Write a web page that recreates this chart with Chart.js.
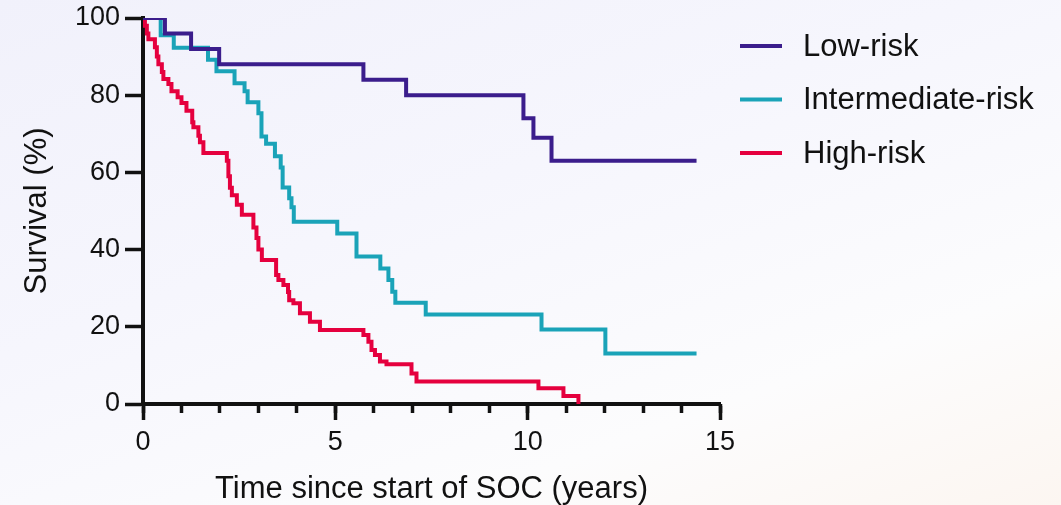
<!DOCTYPE html>
<html>
<head>
<meta charset="utf-8">
<script src="https://cdn.jsdelivr.net/npm/chart.js@4.4.1/dist/chart.umd.min.js"></script>
<style>
    html, body { margin: 0; padding: 0; }
    body {
        width: 1061px; height: 505px; overflow: hidden;
        background: linear-gradient(160deg, #f1f1fb 0%, #f6f6fd 40%, #fcfcfd 75%, #fcf6f1 100%);
    }
    #wrap { position: relative; width: 1061px; height: 505px; }
</style>
</head>
<body>
<div id="wrap"><canvas id="kmChart"></canvas></div>
<script>
// Kaplan-Meier step points: time (years) and survival (%) after each drop
const seriesNames = ['Low-risk', 'Intermediate-risk', 'High-risk'];
const seriesColors = ['#3b1d8c', '#1aa3b8', '#e5003e'];

const lowTimes = [0, 0.57, 1.25, 1.98, 5.73, 6.84, 9.89, 10.15, 10.62, 14.39];
const lowSurv  = [100, 96, 92, 88, 84, 80, 74, 69, 63, 63];

const midTimes = [0, 0.46, 0.80, 1.69, 1.91, 2.38, 2.64, 2.72, 3.00, 3.08, 3.20, 3.43, 3.58, 3.63,
                  3.80, 3.86, 3.92, 5.05, 5.55, 6.17, 6.38, 6.48, 6.56, 7.35, 10.36, 12.02, 14.39];
const midSurv  = [100, 95.5, 92.3, 89.2, 86.2, 83.1, 81, 78.2, 75.3, 69.3, 67.4, 64.2, 61.3, 56.1,
                  53.3, 51, 47.2, 44.2, 38.2, 35.1, 32.1, 29.1, 26.2, 23.2, 19.3, 13.1, 13.1];

const highTimes = [0, 0.05, 0.10, 0.14, 0.31, 0.36, 0.40, 0.49, 0.53, 0.66, 0.74, 0.90, 1.00, 1.13,
                   1.28, 1.31, 1.44, 1.48, 1.57, 2.18, 2.22, 2.26, 2.31, 2.44, 2.57, 2.87, 2.95, 3.00,
                   3.09, 3.46, 3.52, 3.65, 3.77, 3.80, 3.91, 4.08, 4.34, 4.60, 5.73, 5.86, 5.94, 6.03,
                   6.16, 6.33, 6.98, 7.11, 10.28, 10.93, 11.32];
const highSurv  = [100, 98, 96, 94.5, 92.4, 90, 88, 86, 84.2, 82.9, 81, 79.5, 78, 76,
                   73, 71.7, 69.5, 67.8, 65, 63, 59, 56, 54.1, 51.6, 49, 45.7, 43, 40,
                   37.3, 33.4, 32.1, 30.8, 29, 26.9, 26.1, 23.5, 21.3, 19.2, 17.9, 16.1, 14, 12.7,
                   11, 10.3, 7.9, 5.8, 4.1, 2.1, 0];

const xMajorTicks = [0, 5, 10, 15];
const yTicks = [0, 20, 40, 60, 80, 100];

const FONT = '"Liberation Sans", Arial, Helvetica, sans-serif';
const INK = '#111111';

function toPoints(times, surv) {
    return times.map((t, i) => ({ x: t, y: surv[i] }));
}

const allSeries = [
    toPoints(lowTimes, lowSurv),
    toPoints(midTimes, midSurv),
    toPoints(highTimes, highSurv)
];

// legend drawn to the right of the plot, line sample + label
const sideLegend = {
    id: 'sideLegend',
    afterDraw(chart) {
        const ctx = chart.ctx;
        const x0 = chart.chartArea.right + 20;
        ctx.save();
        ctx.font = '31px ' + FONT;
        ctx.textBaseline = 'middle';
        chart.data.datasets.forEach((ds, i) => {
            const y = 46 + i * 53.5;
            ctx.strokeStyle = ds.borderColor;
            ctx.lineWidth = 4;
            ctx.beginPath();
            ctx.moveTo(x0, y);
            ctx.lineTo(x0 + 42, y);
            ctx.stroke();
            ctx.fillStyle = INK;
            ctx.fillText(ds.label, x0 + 63, y + 1);
        });
        ctx.restore();
    }
};

// keep the plot box exactly where the axes put it
function noOverhang(s) {
    s.paddingTop = 0;
    s.paddingBottom = 0;
    s.paddingLeft = 0;
    s.paddingRight = 0;
}

const ctx = document.getElementById('kmChart').getContext('2d');
const kmChart = new Chart(ctx, {
    type: 'line',
    data: {
        datasets: seriesNames.map((name, i) => ({
            label: name,
            data: allSeries[i],
            borderColor: seriesColors[i],
            backgroundColor: seriesColors[i],
            borderWidth: 4,
            stepped: true,
            pointRadius: 0,
            fill: false,
            borderJoinStyle: 'miter',
            borderCapStyle: 'butt'
        }))
    },
    options: {
        responsive: true,
        maintainAspectRatio: false,
        animation: false,
        devicePixelRatio: 1,
        layout: { padding: { top: 18, right: 341, left: 0, bottom: 0 } },
        plugins: {
            legend: { display: false },
            tooltip: { enabled: false }
        },
        scales: {
            xMinor: {
                type: 'linear',
                position: 'bottom',
                weight: 0,
                min: 0,
                max: 15,
                ticks: { display: false, stepSize: 1 },
                grid: { drawOnChartArea: false, tickLength: 9, tickWidth: 3.5, tickColor: INK },
                border: { display: false },
                afterFit: s => { s.height = 0; noOverhang(s); }
            },
            x: {
                type: 'linear',
                position: 'bottom',
                weight: 1,
                min: 0,
                max: 15,
                afterBuildTicks: s => { s.ticks = xMajorTicks.map(v => ({ value: v })); },
                ticks: { font: { family: FONT, size: 27 }, color: INK, padding: 6, maxRotation: 0, autoSkip: false },
                grid: { drawOnChartArea: false, tickLength: 16, tickWidth: 3.5, tickColor: INK },
                border: { color: INK, width: 4 },
                title: {
                    display: true,
                    text: 'Time since start of SOC (years)',
                    font: { family: FONT, size: 31, lineHeight: 1 },
                    color: INK,
                    padding: 0
                },
                afterFit: s => { s.height = 101; noOverhang(s); }
            },
            y: {
                min: 0,
                max: 100,
                afterBuildTicks: s => { s.ticks = yTicks.map(v => ({ value: v })); },
                ticks: { font: { family: FONT, size: 27 }, color: INK, padding: 5 },
                grid: { drawOnChartArea: false, tickLength: 18, tickWidth: 3.5, tickColor: INK },
                border: { color: INK, width: 4 },
                title: {
                    display: true,
                    text: 'Survival (%)',
                    font: { family: FONT, size: 31 },
                    color: INK,
                    padding: { top: 19 }
                },
                afterFit: s => { s.width = 143; noOverhang(s); }
            }
        }
    },
    plugins: [sideLegend]
});
</script>
</body>
</html>
